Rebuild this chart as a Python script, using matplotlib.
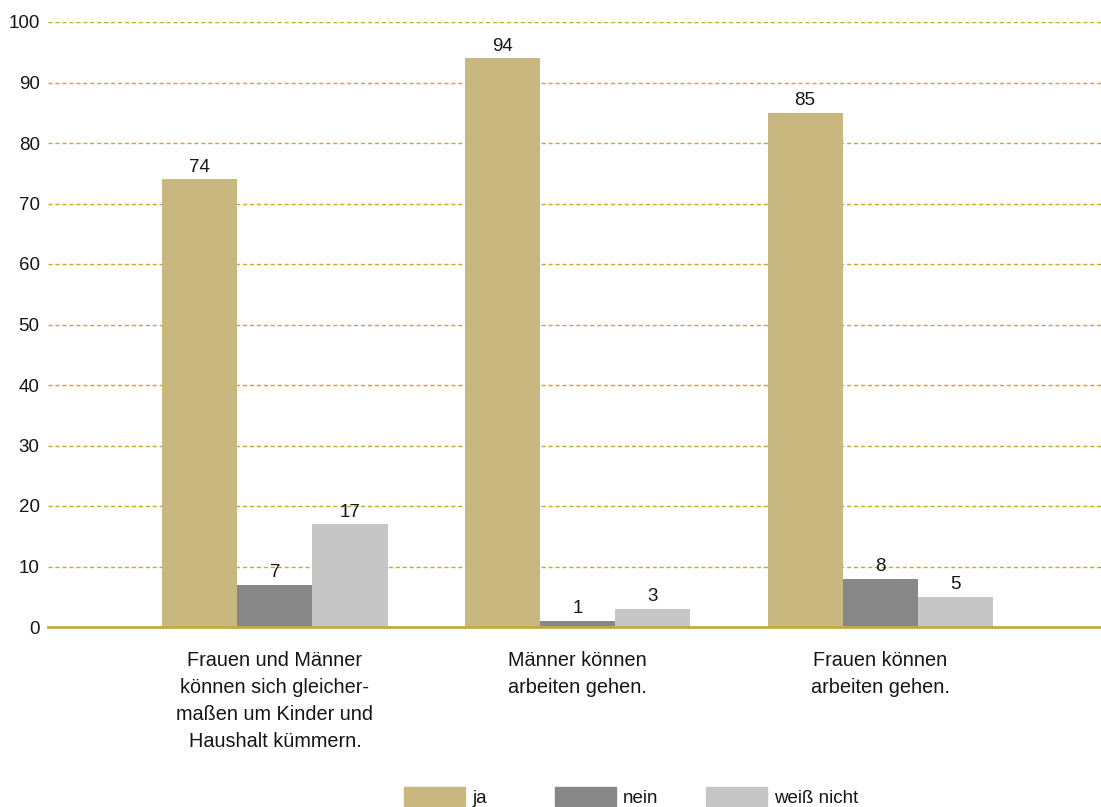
import numpy as np
import matplotlib.pyplot as plt
from matplotlib.patches import Rectangle

plt.rcParams['font.family'] = ['Liberation Sans', 'DejaVu Sans']

categories = ['Frauen und Männer\nkönnen sich gleicher-\nmaßen um Kinder und\nHaushalt kümmern.',
              'Männer können\narbeiten gehen.',
              'Frauen können\narbeiten gehen.']
series = ['ja', 'nein', 'weiß nicht']
values = {
    'ja': [74, 94, 85],
    'nein': [7, 1, 8],
    'weiß nicht': [17, 3, 5],
}
colors = ['#c8b77e', '#878787', '#c6c6c6']
yticks = list(range(0, 101, 10))

fs = 13.5
txt = '#161616'

fig = plt.figure(figsize=(11.01, 8.07), dpi=100)
ax = fig.add_axes([48 / 1101, 180 / 807, 1 - 48 / 1101, 605 / 807])

x = np.arange(len(categories))
w = 0.248
for i, (name, col) in enumerate(zip(series, colors)):
    pos = x + (i - 1) * w
    bars = ax.bar(pos, values[name], width=w, color=col, zorder=3)
    for b, v in zip(bars, values[name]):
        ax.text(b.get_x() + b.get_width() / 2, v + 0.6, str(v), ha='center', va='bottom',
                fontsize=fs, color=txt, zorder=4)

ax.set_xlim(-0.75, 2.73)
ax.set_ylim(0, 100)
ax.set_yticks(yticks)
ax.yaxis.grid(True, linestyle=(0, (3, 2)), color='#c9a82c', linewidth=1, zorder=0)
ax.set_axisbelow(True)
for s in ['top', 'right', 'left']:
    ax.spines[s].set_visible(False)
ax.spines['bottom'].set_color('#c2aa45')
ax.spines['bottom'].set_linewidth(2)
ax.spines['bottom'].set_zorder(5)
ax.tick_params(axis='y', length=0, pad=6, labelsize=fs, labelcolor=txt)
ax.tick_params(axis='x', length=0, pad=17, labelsize=14.3, labelcolor=txt)
ax.set_xticks(x)
ax.set_xticklabels(categories, linespacing=1.55, va='top')
for lbl in ax.get_yticklabels():
    lbl.set_va('center_baseline')

# legend with evenly spaced entries, at the bottom edge
for i, (name, col) in enumerate(zip(series, colors)):
    x0 = 404 + i * 151
    fig.patches.append(Rectangle((x0 / 1101, 1 - 806 / 807), 61 / 1101, 19 / 807,
                                 transform=fig.transFigure, color=col))
    fig.text((x0 + 68) / 1101, 1 - 803 / 807, name, fontsize=fs, color=txt,
             va='baseline', ha='left')

fig.savefig('out.png', dpi=100)
